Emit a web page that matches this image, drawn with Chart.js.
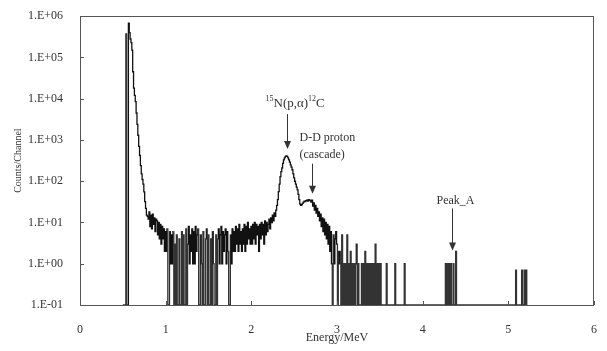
<!DOCTYPE html>
<html lang="en">
<head>
<meta charset="UTF-8">
<title>Counts per channel vs energy</title>
<style>
  body { margin: 0; background: #fff; }
  #wrap { width: 607px; height: 351px; }
</style>
<script src="https://cdn.jsdelivr.net/npm/chart.js"></script>
</head>
<body>
<div id="wrap"><canvas id="spectrum" width="607" height="351"></canvas></div>
<script>
// channel calibration
const channelStart = 0.50;  // MeV
const channelWidth = 0.01;  // MeV per channel

// counts per channel, one row = 0.1 MeV
const counts = [
  0, 0, 0, 0, 370000, 0, 0, 680000, 400000, 280000,          // 0.50
  230000, 150000, 45000, 18000, 12000, 8500, 4500, 2400, 1300, 700, // 0.60
  420, 240, 150, 110, 85, 55, 32, 22, 15, 14,                 // 0.70
  12, 18, 8, 15, 7, 16, 9, 13, 6, 12,                         // 0.80
  11, 5, 10, 4, 9, 3, 8, 4, 7, 2,                             // 0.90
  6, 2, 7, 0, 0, 6, 1, 5, 1, 6,                               // 1.00
  0, 3, 0, 5, 0, 0, 4, 0, 0, 6,                               // 1.10
  0, 5, 0, 0, 7, 0, 3, 8, 1, 5,                               // 1.20
  2, 7, 1, 6, 1, 8, 2, 5, 7, 0,                               // 1.30
  0, 5, 1, 0, 6, 0, 0, 4, 7, 0,                               // 1.40
  5, 0, 0, 4, 0, 6, 1, 0, 0, 5,                               // 1.50
  0, 4, 7, 1, 5, 8, 1, 6, 2, 5,                               // 1.60
  7, 1, 6, 2, 0, 0, 5, 1, 7, 2,                               // 1.70
  6, 2, 8, 3, 7, 2, 9, 3, 6, 2,                               // 1.80
  7, 3, 9, 2, 8, 3, 10, 4, 7, 3,                              // 1.90
  8, 3, 9, 4, 10, 3, 9, 5, 8, 2,                              // 2.00
  9, 4, 10, 5, 9, 3, 11, 5, 10, 6,                            // 2.10
  9, 12, 7, 13, 10, 15, 11, 17, 14, 20,                       // 2.20
  26, 36, 56, 85, 130, 170, 210, 270, 330, 370,               // 2.30
  400, 410, 400, 370, 330, 290, 250, 220, 190, 150,           // 2.40
  120, 100, 85, 72, 62, 48, 36, 28, 26, 27,                   // 2.50
  29, 31, 33, 32, 34, 35, 33, 36, 34, 35,                     // 2.60
  31, 35, 25, 30, 20, 26, 17, 22, 14, 18,                     // 2.70
  11, 16, 8, 13, 6, 12, 5, 10, 4, 9,                          // 2.80
  3, 8, 2, 6, 1, 0, 5, 1, 4, 6,                               // 2.90
  3, 0, 2, 1, 2, 0, 5, 0, 1, 0,                               // 3.00
  1, 0, 5, 0, 1, 0, 2, 0, 1, 0,                               // 3.10
  1, 0, 1, 3, 0, 1, 0, 0, 0, 1,                               // 3.20
  0, 1, 0, 2, 0, 1, 0, 1, 0, 1,                               // 3.30
  0, 1, 0, 1, 0, 3, 0, 1, 0, 1,                               // 3.40
  0, 1, 0, 0, 0, 0, 0, 0, 1, 0,                               // 3.50
  0, 0, 0, 0, 0, 0, 0, 0, 1, 0,                               // 3.60
  0, 0, 0, 0, 0, 0, 0, 0, 0, 1,                               // 3.70
  0, 0, 0, 0, 0, 0, 0, 0, 0, 0,                               // 3.80
  0, 0, 0, 0, 0, 0, 0, 0, 0, 0,                               // 3.90
  0, 0, 0, 0, 0, 0, 0, 0, 0, 0,                               // 4.00
  0, 0, 0, 0, 0, 0, 0, 0, 0, 0,                               // 4.10
  0, 0, 0, 0, 0, 0, 0, 1, 0, 1,                               // 4.20
  0, 1, 0, 1, 0, 0, 1, 0, 0, 2,                               // 4.30
  0, 0, 0, 0, 0, 0, 0, 0, 0, 0,                               // 4.40
  0, 0, 0, 0, 0, 0, 0, 0, 0, 0,                               // 4.50
  0, 0, 0, 0, 0, 0, 0, 0, 0, 0,                               // 4.60
  0, 0, 0, 0, 0, 0, 0, 0, 0, 0,                               // 4.70
  0, 0, 0, 0, 0, 0, 0, 0, 0, 0,                               // 4.80
  0, 0, 0, 0, 0, 0, 0, 0, 0, 0,                               // 4.90
  0, 0, 0, 0, 0, 0, 0, 0, 0, 0.7,                             // 5.00
  0, 0, 0, 0, 0, 0, 0.7, 0, 0, 0.7,                           // 5.10
  0, 0.7, 0                                                   // 5.20
];

const xTickLabels = ['0', '1', '2', '3', '4', '5', '6'];
const yTickValues = [0.1, 1, 10, 100, 1e3, 1e4, 1e5, 1e6];
const yTickLabels = ['1.E-01', '1.E+00', '1.E+01', '1.E+02', '1.E+03', '1.E+04', '1.E+05', '1.E+06'];

// peaks marked with arrows: energy (MeV) and count just above the peak
const markEnergy = [2.42, 2.71, 4.34];
const markCount = [600, 50, 2.1];

const floor = 0.1; // empty channels sit on the axis
const serif = '"Liberation Serif", "DejaVu Serif", serif';

const points = counts.map((c, i) => ({
  x: +(channelStart + i * channelWidth).toFixed(2),
  y: Math.max(c, floor)
}));

function drawArrow(ctx, px, top, tip) {
  ctx.beginPath();
  ctx.moveTo(px, top);
  ctx.lineTo(px, tip - 6);
  ctx.stroke();
  ctx.beginPath();
  ctx.moveTo(px - 3.5, tip - 8);
  ctx.lineTo(px + 3.5, tip - 8);
  ctx.lineTo(px, tip);
  ctx.closePath();
  ctx.fill();
}

const decorations = {
  id: 'decorations',
  afterDraw(chart) {
    const { ctx, chartArea: a, scales: { x, y } } = chart;
    ctx.save();
    ctx.strokeStyle = '#555';
    ctx.fillStyle = '#333';
    ctx.lineWidth = 1;

    // frame
    ctx.strokeRect(Math.round(a.left) + 0.5, Math.round(a.top) + 0.5,
      Math.round(a.right - a.left) - 1, Math.round(a.bottom - a.top));

    // small inward tick marks
    ctx.beginPath();
    yTickValues.forEach(v => {
      const py = Math.round(y.getPixelForValue(v)) + 0.5;
      ctx.moveTo(a.left, py);
      ctx.lineTo(a.left + 4, py);
    });
    xTickLabels.forEach((t, i) => {
      const px = Math.round(x.getPixelForValue(i)) + 0.5;
      ctx.moveTo(px, a.bottom);
      ctx.lineTo(px, a.bottom - 4);
    });
    ctx.stroke();

    // arrows
    const tips = markEnergy.map((e, i) => ({
      px: Math.round(x.getPixelForValue(e)) + 0.5,
      tip: y.getPixelForValue(markCount[i])
    }));
    ctx.strokeStyle = '#333';
    drawArrow(ctx, tips[0].px, tips[0].tip - 35, tips[0].tip);
    drawArrow(ctx, tips[1].px, tips[1].tip - 30, tips[1].tip);
    drawArrow(ctx, tips[2].px, tips[2].tip - 42, tips[2].tip);

    // labels
    ctx.textBaseline = 'middle';
    ctx.textAlign = 'left';
    let cx = tips[0].px - 22;
    const mid = tips[0].tip - 46;
    [['15', true], ['N(p,\u03b1)', false], ['12', true], ['C', false]].forEach(([t, sup]) => {
      ctx.font = (sup ? '8px ' : '13px ') + serif;
      ctx.fillText(t, cx, sup ? mid - 4 : mid);
      cx += ctx.measureText(t).width;
    });

    ctx.font = '12px ' + serif;
    ctx.fillText('D-D proton', tips[1].px - 13, tips[1].tip - 56);
    ctx.fillText('(cascade)', tips[1].px - 13, tips[1].tip - 39);

    ctx.textAlign = 'center';
    ctx.fillText('Peak_A', tips[2].px + 3, tips[2].tip - 50);
    ctx.restore();
  }
};

new Chart(document.getElementById('spectrum'), {
  type: 'line',
  data: {
    datasets: [{
      data: points,
      stepped: 'middle',
      borderColor: '#111',
      borderWidth: 1.3,
      pointRadius: 0,
      fill: false,
      segment: {
        // drops to empty channels look a little lighter in the scan
        borderColor: c => {
          const a = c.p0.parsed.y, b = c.p1.parsed.y;
          return (a <= floor || b <= floor) && Math.max(a, b) < 5e5 ? '#333' : undefined;
        }
      }
    }]
  },
  options: {
    responsive: false,
    animation: false,
    layout: { padding: { top: 12, right: 2, left: 0, bottom: 0 } },
    plugins: { legend: { display: false }, tooltip: { enabled: false } },
    scales: {
      x: {
        type: 'linear',
        min: 0,
        max: 6,
        afterFit: s => { s.height = 46; },
        grid: { display: false },
        border: { display: false },
        ticks: {
          stepSize: 1,
          padding: 10,
          color: '#333',
          font: { family: serif, size: 12 },
          callback: v => xTickLabels[v] ?? ''
        },
        title: {
          display: true,
          text: 'Energy/MeV',
          color: '#333',
          font: { family: serif, size: 12 },
          padding: { top: 0, bottom: 6 }
        }
      },
      y: {
        type: 'logarithmic',
        min: 0.1,
        max: 1e6,
        afterFit: s => { s.width = 80; },
        afterBuildTicks: s => { s.ticks = yTickValues.map(v => ({ value: v })); },
        grid: { display: false },
        border: { display: false },
        ticks: {
          autoSkip: false,
          padding: 9,
          color: '#333',
          font: { family: serif, size: 12 },
          callback: (v, i) => yTickLabels[i]
        },
        title: {
          display: true,
          text: 'Counts/Channel',
          color: '#333',
          font: { family: serif, size: 10 },
          padding: { top: 12, bottom: 0 }
        }
      }
    }
  },
  plugins: [decorations]
});
</script>
</body>
</html>
